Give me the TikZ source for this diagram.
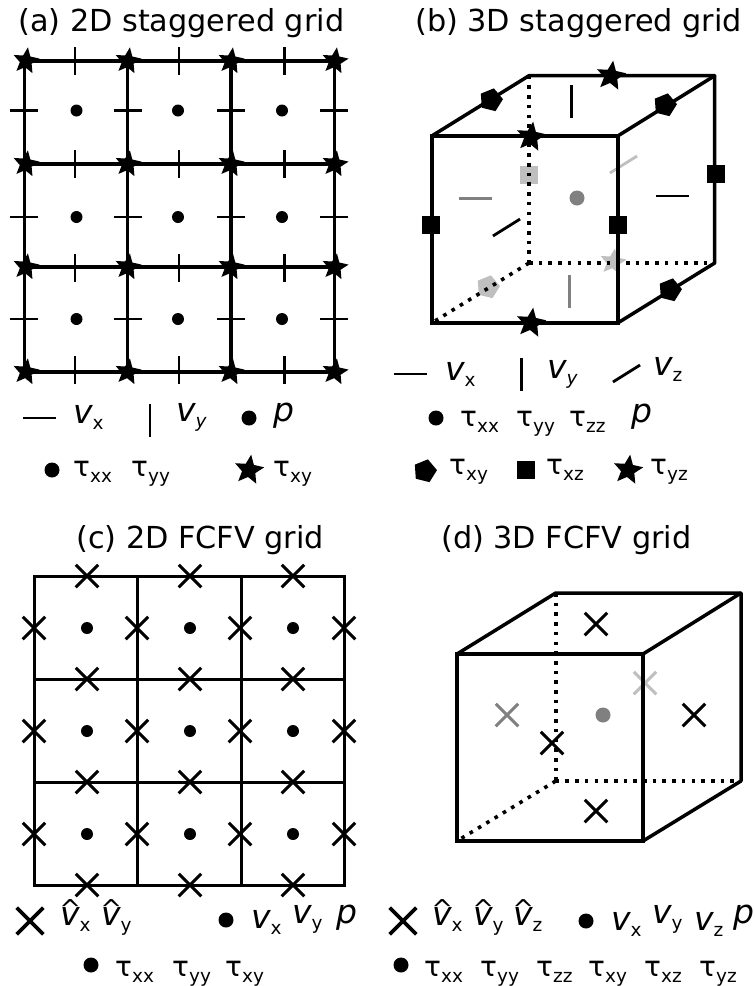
\documentclass[tikz,border=0pt]{standalone}
\usepackage{fontspec}
\setmainfont{DejaVu Sans}
\usetikzlibrary{shapes.geometric,shapes.misc}
\newcommand{\tfs}{\fontsize{30.3}{30.3}\selectfont}
\newcommand{\sbs}[1]{\raisebox{-6pt}{\fontsize{18.5}{18.5}\selectfont #1}}
\newcommand{\sbi}[1]{\raisebox{-6pt}{\fontsize{18.5}{18.5}\selectfont\itshape #1}}
\newcommand{\vv}{{\fontsize{33}{33}\selectfont\itshape v}}
\newcommand{\pp}{{\fontsize{33}{33}\selectfont\itshape p}}
\newcommand{\hv}{\vv\kern-9.5pt\makebox[0pt]{\raisebox{7pt}{\fontsize{26}{26}\selectfont\textasciicircum}}\kern9.5pt}
\newcommand{\ta}{{\fontsize{28}{28}\selectfont τ}}
\colorlet{gmid}{black!50}
\colorlet{glight}{black!25}
\tikzset{
  grid line/.style={line width=3.1pt,line cap=rect},
  front line/.style={line width=3.8pt,line cap=rect},
  back line/.style={line width=3.5pt,line cap=round,line join=round},
  fine line/.style={line width=3pt,line cap=rect},
  hidden line/.style={line width=3.6pt,dash pattern=on 3.6pt off 6.1pt},
  hbar/.style={fill=#1,inner sep=0pt,minimum width=33pt,minimum height=2.8pt},
  hbar/.default=black,
  vbar/.style={fill=#1,inner sep=0pt,minimum width=2.8pt,minimum height=33pt},
  vbar/.default=black,
  hticka/.style={fill=black,inner sep=0pt,minimum width=28pt,minimum height=2.5pt},
  vticka/.style={fill=black,inner sep=0pt,minimum width=2.5pt,minimum height=28pt},
  zbar/.style={fill=#1,inner sep=0pt,minimum width=32pt,minimum height=2.8pt,rotate=32},
  zbar/.default=black,
  dotm/.style={circle,fill=#1,inner sep=0pt,minimum size=12pt},
  dotm/.default=black,
  dotb/.style={circle,fill=#1,inner sep=0pt,minimum size=15pt},
  dotb/.default=black,
  starm/.style={star,star points=5,star point ratio=2.2,fill=#1,inner sep=0pt,minimum size=27.5pt,shape border rotate=-8},
  starm/.default=black,
  starb/.style={starm,minimum size=31pt},
  pent/.style={regular polygon,regular polygon sides=5,fill=#1,inner sep=0pt,minimum size=24pt,shape border rotate=-14},
  pent/.default=black,
  sqm/.style={rectangle,fill=#1,inner sep=0pt,minimum size=18pt},
  sqm/.default=black,
  crossm/.style={cross out,draw=#1,line width=3pt,inner sep=0pt,minimum size=19.5pt},
  crossm/.default=black,
  crossb/.style={cross out,draw=black,line width=3.6pt,inner sep=0pt,minimum size=23pt},
  titletext/.style={anchor=base west,inner sep=0pt,font=\tfs},
  lab/.style={anchor=base west,inner sep=0pt},
}
\begin{document}
\begin{tikzpicture}[x=1pt,y=-1pt]
\useasboundingbox (0,0) rectangle (755,986);
% ---------- titles
\node[titletext] (ta) at (18,31) {(a) 2D staggered grid};
\node[titletext] (tb) at (415,31) {(b) 3D staggered grid};
\node[titletext] (tc) at (76,548) {(c) 2D FCFV grid};
\node[titletext] (td) at (441,548) {(d) 3D FCFV grid};
% ---------- panel (a)
\foreach \n/\x in {0/24.5,1/127.5,2/231,3/334.5}{
  \coordinate (at\n) at (\x,61);
  \coordinate (ab\n) at (\x,372);
  \draw[grid line] (at\n) -- (ab\n);
}
\foreach \n/\y in {0/61,1/164,2/267,3/372}{
  \coordinate (al\n) at (24.5,\y);
  \coordinate (ar\n) at (334.5,\y);
  \draw[grid line] (al\n) -- (ar\n);
}
\foreach \x/\i in {26/0,128/1,231/2,335/3}
  \foreach \y/\j in {61/0,164/1,267/2,372/3}
    \node[starm] (as\i\j) at (\x,\y) {};
\foreach \x/\i in {75/0,179/1,284.5/2}
  \foreach \y/\j in {61/0,164/1,268/2,370/3}
    \node[vticka] (av\i\j) at (\x,\y) {};
\foreach \x/\i in {24/0,128/1,231/2,333.5/3}
  \foreach \y/\j in {110.5/0,217/1,319/2}
    \node[hticka] (ah\i\j) at (\x,\y) {};
\foreach \x/\i in {76.5/0,178/1,282/2}
  \foreach \y/\j in {110.5/0,217/1,319/2}
    \node[dotm] (ad\i\j) at (\x,\y) {};
% legend (a)
\node[hbar] (lah) at (39,418) {};
\node[lab] (lav) at (73,423) {\vv\sbs{x}};
\node[vbar] (lat) at (150,420.5) {};
\node[lab] (lay) at (176,421) {\vv\sbi{y}};
\node[dotb] (lad) at (249,418) {};
\node[lab] (lap) at (273,421) {\pp};
\node[dotb] (lad2) at (52,470) {};
\node[lab] (laxx) at (73,476) {\ta\sbs{xx}};
\node[lab] (layy) at (131,476) {\ta\sbs{yy}};
\node[starb] (las) at (249,470) {};
\node[lab] (laxy) at (273,476) {\ta\sbs{xy}};
% ---------- panel (b)
\coordinate (bfa) at (431.7,136);
\coordinate (bfb) at (617.7,136);
\coordinate (bfc) at (617.7,323);
\coordinate (bfd) at (431.7,323);
\coordinate (bba) at (529,75.7);
\coordinate (bbb) at (714.7,75.7);
\coordinate (bbc) at (714.7,263);
\coordinate (bbd) at (529,263);
\node[sqm=glight] (bg1) at (529,174.5) {};
\node[pent=glight] (bg2) at (488,287) {};
\node[starm=glight] (bg3) at (613,262) {};
\node[hbar=gmid] (bg4) at (475.5,198.7) {};
\node[vbar=gmid] (bg5) at (569.5,291.5) {};
\node[zbar=glight] (bg6) at (623.5,164.5) {};
\node[dotb=gmid] (bg7) at (577,198) {};
\draw[hidden line] (bba) -- (bbd);
\draw[hidden line] (bbd) -- (bbc);
\draw[hidden line] (bbd) -- (bfd);
\draw[back line] (bfa) -- (bba) -- (bbb) -- (bbc) -- (bfc);
\draw[back line] (bfb) -- (bbb);
\draw[front line] (bfa) -- (bfb) -- (bfc) -- (bfd) -- cycle;
\node[vbar] (bvy) at (571.7,101.5) {};
\node[hbar] (bvx) at (672,196) {};
\node[zbar] (bvz) at (506.5,227.5) {};
\node[starb] (bs1) at (611,76) {};
\node[starb] (bs2) at (531,137) {};
\node[starb] (bs3) at (531,323) {};
\node[pent] (bp1) at (491,100) {};
\node[pent] (bp2) at (665,105) {};
\node[pent] (bp3) at (670,290) {};
\node[sqm] (bq1) at (431,225) {};
\node[sqm] (bq2) at (618,225) {};
\node[sqm] (bq3) at (716,174) {};
% legend (b)
\node[hbar] (lbh) at (410.5,374) {};
\node[lab] (lbv) at (445,380) {\vv\sbs{x}};
\node[vbar] (lbt) at (521.5,374.5) {};
\node[lab] (lby) at (547,378) {\vv\sbi{y}};
\node[zbar] (lbz) at (626.5,373.5) {};
\node[lab] (lbw) at (653,375) {\vv\sbs{z}};
\node[dotb] (lbd) at (436,418) {};
\node[lab] (lbxx) at (460,426) {\ta\sbs{xx}};
\node[lab] (lbyy) at (516,426) {\ta\sbs{yy}};
\node[lab] (lbzz) at (569,426) {\ta\sbs{zz}};
\node[lab] (lbp) at (631,422) {\pp};
\node[pent] (lbq) at (425,471) {};
\node[lab] (lbxy) at (449,474) {\ta\sbs{xy}};
\node[sqm] (lbr) at (526,470) {};
\node[lab] (lbxz) at (546,474) {\ta\sbs{xz}};
\node[starb] (lbs) at (628,470) {};
\node[lab] (lbyz) at (650,474) {\ta\sbs{yz}};
% ---------- panel (c)
\foreach \n/\x in {0/34.5,1/137,2/241,3/344}{
  \coordinate (ct\n) at (\x,576);
  \coordinate (cb\n) at (\x,885);
  \draw[fine line] (ct\n) -- (cb\n);
}
\foreach \n/\y in {0/576,1/679,2/782,3/885}{
  \coordinate (cl\n) at (34.5,\y);
  \coordinate (cr\n) at (344,\y);
  \draw[fine line] (cl\n) -- (cr\n);
}
\foreach \x/\i in {87/0,190/1,293/2}
  \foreach \y/\j in {576/0,679/1,782/2,885/3}
    \node[crossm] (cx\i\j) at (\x,\y) {};
\foreach \x/\i in {34/0,137/1,240/2,344/3}
  \foreach \y/\j in {628/0,731/1,834/2}
    \node[crossm] (cy\i\j) at (\x,\y) {};
\foreach \x/\i in {87/0,190/1,293/2}
  \foreach \y/\j in {628/0,731/1,834/2}
    \node[dotm] (cd\i\j) at (\x,\y) {};
% legend (c)
\node[crossb] (lcx) at (30,921) {};
\node[lab] (lchx) at (60,925) {\hv\sbs{x}};
\node[lab] (lchy) at (101,925) {\hv\sbs{y}};
\node[dotb] (lcd) at (226,920) {};
\node[lab] (lcvx) at (251,928) {\vv\sbs{x}};
\node[lab] (lcvy) at (292,923) {\vv\sbs{y}};
\node[lab] (lcp) at (336,923) {\pp};
\node[dotb] (lcd2) at (91,965) {};
\node[lab] (lcxx) at (115,976) {\ta\sbs{xx}};
\node[lab] (lcyy) at (172,976) {\ta\sbs{yy}};
\node[lab] (lcxy) at (225,976) {\ta\sbs{xy}};
% ---------- panel (d)
\coordinate (dfa) at (457,654);
\coordinate (dfb) at (643,654);
\coordinate (dfc) at (643,841);
\coordinate (dfd) at (457,841);
\coordinate (dba) at (555.7,593);
\coordinate (dbb) at (741,593);
\coordinate (dbc) at (741,781);
\coordinate (dbd) at (555.7,781);
\node[crossm=gmid] (dg1) at (507,715) {};
\node[crossm=glight] (dg2) at (645,683) {};
\node[dotb=gmid] (dg3) at (603,715) {};
\draw[hidden line] (dba) -- (dbd);
\draw[hidden line] (dbd) -- (dbc);
\draw[hidden line] (dbd) -- (dfd);
\draw[back line] (dfa) -- (dba) -- (dbb) -- (dbc) -- (dfc);
\draw[back line] (dfb) -- (dbb);
\draw[front line] (dfa) -- (dfb) -- (dfc) -- (dfd) -- cycle;
\node[crossm] (dx1) at (596,624) {};
\node[crossm] (dx2) at (596,811) {};
\node[crossm] (dx3) at (694,715) {};
\node[crossm] (dx4) at (552,743) {};
% legend (d)
\node[crossb] (ldx) at (403,921) {};
\node[lab] (ldhx) at (432,925) {\hv\sbs{x}};
\node[lab] (ldhy) at (473,925) {\hv\sbs{y}};
\node[lab] (ldhz) at (513,925) {\hv\sbs{z}};
\node[dotb] (ldd) at (586,921) {};
\node[lab] (ldvx) at (611,930) {\vv\sbs{x}};
\node[lab] (ldvy) at (652,923) {\vv\sbs{y}};
\node[lab] (ldvz) at (694,930) {\vv\sbs{z}};
\node[lab] (ldp) at (733,923) {\pp};
\node[dotb] (ldd2) at (401,965) {};
\node[lab] (ldxx) at (424,976) {\ta\sbs{xx}};
\node[lab] (ldyy) at (480,976) {\ta\sbs{yy}};
\node[lab] (ldzz) at (536,976) {\ta\sbs{zz}};
\node[lab] (ldxy) at (588,976) {\ta\sbs{xy}};
\node[lab] (ldxz) at (644,976) {\ta\sbs{xz}};
\node[lab] (ldyz) at (699,976) {\ta\sbs{yz}};
\end{tikzpicture}
\end{document}
